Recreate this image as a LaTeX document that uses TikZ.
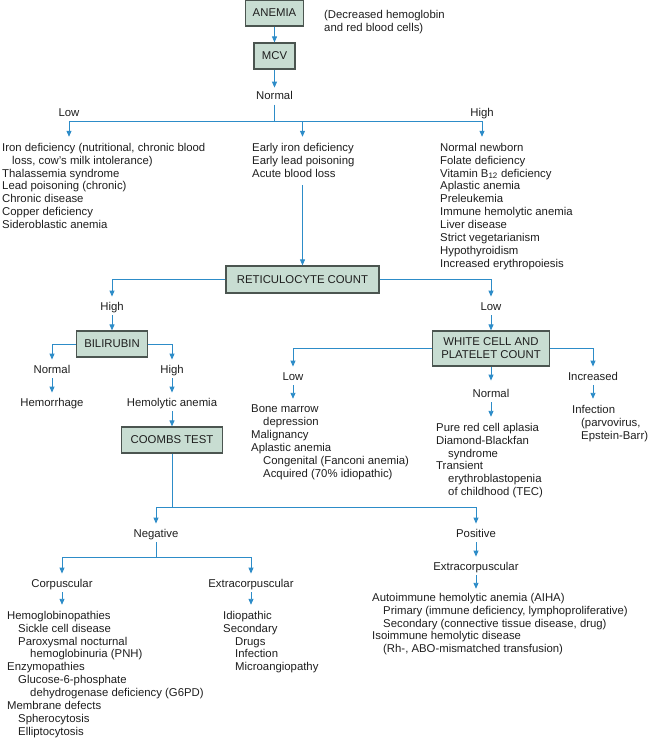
\documentclass[tikz,border=0pt]{standalone}
\usepackage{fontspec}
\setmainfont{Liberation Sans}
\usetikzlibrary{arrows.meta}
\definecolor{boxfill}{RGB}{200,221,210}
\definecolor{boxline}{RGB}{75,85,80}
\definecolor{linkblue}{RGB}{45,140,200}
\definecolor{txt}{RGB}{30,30,30}
\tikzset{
	every node/.style={font=\fontsize{11.35}{12.9}\selectfont, text=txt},
	test/.style={draw=boxline, fill=boxfill, line width=1.2pt, inner sep=0pt, minimum height=26pt},
	lbl/.style={inner sep=0pt, text height=8.2pt, text depth=2.4pt, anchor=base},
	lst/.style={inner sep=0pt, align=left, anchor=north west},
	ln/.style={draw=linkblue, line width=0.9pt},
	arr/.style={ln, -{Triangle[width=5pt,length=6pt]}},
}
\newcommand{\ind}[1]{\hspace*{#1pt}}

\begin{document}
\begin{tikzpicture}[x=1pt,y=-1pt]
			\useasboundingbox (0,0) rectangle (650,738);

			% MCV
			\node[test, minimum width=58pt] (anemia) at (274.5,13) {ANEMIA};
			\node[lst] (note) at (324,9.8) {(Decreased hemoglobin\\and red blood cells)};
			\node[test, minimum width=41pt] (mcv) at (274.5,56) {MCV};
			\node[lbl] (mnorm) at (274.5,100) {Normal};
			\node[lbl] (mlow) at (69,117) {Low};
			\node[lbl] (mhigh) at (482,117) {High};
			\coordinate (msplit) at (274.5,121);

			% lists under MCV
			\node[lst] (lowlist) at (2,142.8) {Iron deficiency (nutritional, chronic blood\\
				\ind{10}loss, cow's milk intolerance)\\Thalassemia syndrome\\Lead poisoning (chronic)\\
				Chronic disease\\Copper deficiency\\Sideroblastic anemia};
			\node[lst] (midlist) at (252,142.8) {Early iron deficiency\\Early lead poisoning\\Acute blood loss};
			\node[lst] (highlist) at (440,142.8) {Normal newborn\\Folate deficiency\\Vitamin B\textsubscript{12} deficiency\\
				Aplastic anemia\\Preleukemia\\Immune hemolytic anemia\\Liver disease\\Strict vegetarianism\\
				Hypothyroidism\\Increased erythropoiesis};

			% reticulocytes
			\node[test, minimum width=153pt, minimum height=27pt] (reti) at (302.5,279.5) {RETICULOCYTE COUNT};
			\node[lbl] (rhigh) at (112,310) {High};
			\node[lbl] (rlow) at (491,310) {Low};
			\node[test, minimum width=71pt] (bili) at (112,344) {BILIRUBIN};
			\node[test, minimum width=117pt, minimum height=35pt, align=center] (wbc) at (491,348.5) {WHITE CELL AND\\PLATELET COUNT};

			% bilirubin
			\node[lbl] (bnorm) at (52,373) {Normal};
			\node[lbl] (bhigh) at (172,373) {High};
			\node[lbl] (hemorr) at (52,406) {Hemorrhage};
			\node[lbl] (hemol) at (172,406) {Hemolytic anemia};
			\node[test, minimum width=101pt] (coombs) at (172,440) {COOMBS TEST};

			% white cells
			\node[lbl] (wlow) at (293,380) {Low};
			\node[lbl] (wnorm) at (491,397) {Normal};
			\node[lbl] (wincr) at (593,380) {Increased};
			\node[lst] (marrow) at (251,404.8) {Bone marrow\\\ind{12}depression\\Malignancy\\Aplastic anemia\\
				\ind{12}Congenital (Fanconi anemia)\\\ind{12}Acquired (70\% idiopathic)};
			\node[lst] (aplasia) at (436,422.8) {Pure red cell aplasia\\Diamond-Blackfan\\\ind{12}syndrome\\Transient\\
				\ind{12}erythroblastopenia\\\ind{12}of childhood (TEC)};
			\node[lst] (infect) at (572,404.8) {Infection\\\ind{9}(parvovirus,\\\ind{9}Epstein-Barr)};

			% coombs
			\coordinate (csplit) at (172,507);
			\node[lbl] (neg) at (156,537) {Negative};
			\node[lbl] (pos) at (476,537) {Positive};
			\coordinate (nsplit) at (156,557);
			\node[lbl] (corp) at (62,587) {Corpuscular};
			\node[lbl] (extra) at (251,587) {Extracorpuscular};
			\node[lbl] (pextra) at (476,570) {Extracorpuscular};
			\node[lst] (corplist) at (7,610.8) {Hemoglobinopathies\\\ind{11}Sickle cell disease\\\ind{11}Paroxysmal nocturnal\\
				\ind{23}hemoglobinuria (PNH)\\Enzymopathies\\\ind{11}Glucose-6-phosphate\\
				\ind{23}dehydrogenase deficiency (G6PD)\\Membrane defects\\\ind{11}Spherocytosis\\\ind{11}Elliptocytosis};
			\node[lst] (extralist) at (223,610.8) {Idiopathic\\Secondary\\\ind{12}Drugs\\\ind{12}Infection\\\ind{12}Microangiopathy};
			\node[lst] (aiha) at (372,592.8) {Autoimmune hemolytic anemia (AIHA)\\
				\ind{11}Primary (immune deficiency, lymphoproliferative)\\
				\ind{11}Secondary (connective tissue disease, drug)\\Isoimmune hemolytic disease\\
				\ind{11}(Rh-, ABO-mismatched transfusion)};

			% arrows
			% top
			\draw[arr] (anemia) -- (mcv);
			\draw[arr, shorten >=4pt] (mcv) -- (mnorm.north);
			\draw[ln, shorten <=2pt] (mnorm.south) -- (msplit);
			\draw[arr, shorten >=6pt] (msplit) -| (lowlist.north -| mlow);
			\draw[arr, shorten >=6pt] (msplit) -| (midlist.north -| reti);
			\draw[arr, shorten >=6pt] (msplit) -| (highlist.north -| mhigh);
			\draw[arr, shorten <=8pt] (midlist.south -| reti) -- (reti);
			% reticulocytes
			\draw[arr, shorten >=5pt] (reti) -| (rhigh.north);
			\draw[arr, shorten >=5pt] (reti) -| (rlow.north);
			\draw[arr, shorten <=2.5pt] (rhigh.south) -- (bili);
			\draw[arr, shorten <=2.5pt] (rlow.south) -- (wbc);
			% bilirubin
			\draw[arr, shorten >=5pt] (bili) -| (bnorm.north);
			\draw[arr, shorten >=5pt] (bili) -| (bhigh.north);
			\draw[arr, shorten <=2.5pt, shorten >=5pt] (bnorm.south) -- (hemorr.north);
			\draw[arr, shorten <=2.5pt, shorten >=5pt] (bhigh.south) -- (hemol.north);
			\draw[arr, shorten <=2.5pt] (hemol.south) -- (coombs);
			% white cells
			\draw[arr, shorten >=5pt] (wbc) -| (wlow.north);
			\draw[arr, shorten >=8pt] (wbc) -- (wnorm.north);
			\draw[arr, shorten >=5pt] (wbc) -| (wincr.north);
			\draw[arr, shorten <=2.5pt, shorten >=6pt] (wlow.south) -- (wlow.south |- marrow.north);
			\draw[arr, shorten <=2.5pt, shorten >=6pt] (wnorm.south) -- (wnorm.south |- aplasia.north);
			\draw[arr, shorten <=2.5pt, shorten >=6pt] (wincr.south) -- (wincr.south |- infect.north);
			% coombs
			\draw[ln] (coombs) -- (csplit);
			\draw[arr, shorten >=5pt] (csplit) -| (neg.north);
			\draw[arr, shorten >=5pt] (csplit) -| (pos.north);
			\draw[ln, shorten <=2.5pt] (neg.south) -- (nsplit);
			\draw[arr, shorten >=5pt] (nsplit) -| (corp.north);
			\draw[arr, shorten >=5pt] (nsplit) -| (extra.north);
			\draw[arr, shorten <=2.5pt, shorten >=5pt] (pos.south) -- (pextra.north);
			\draw[arr, shorten <=2.5pt, shorten >=4pt] (pextra.south) -- (pextra.south |- aiha.north);
			\draw[arr, shorten <=2.5pt, shorten >=6pt] (corp.south) -- (corp.south |- corplist.north);
			\draw[arr, shorten <=2.5pt, shorten >=6pt] (extra.south) -- (extra.south |- extralist.north);

\end{tikzpicture}
\end{document}
